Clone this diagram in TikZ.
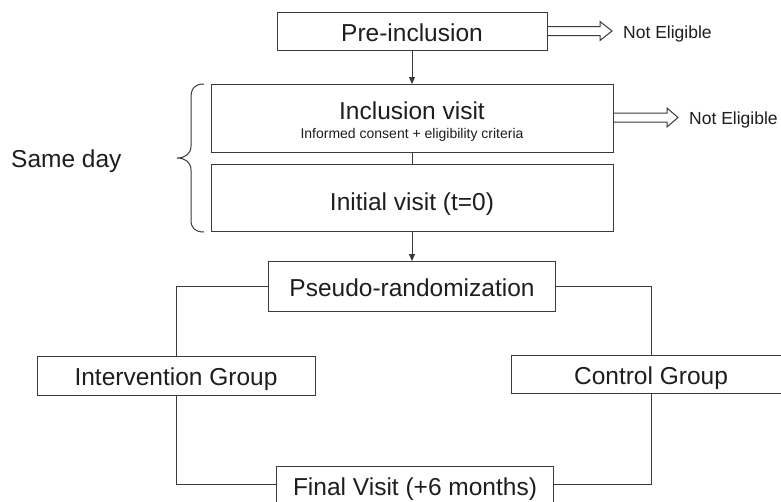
\documentclass[tikz,border=0pt]{standalone}
\usepackage{fontspec}
\setmainfont{Liberation Sans}
\usetikzlibrary{arrows.meta}
\definecolor{ln}{HTML}{3A3A3A}
\definecolor{tx}{HTML}{1E1E1E}
\begin{document}
\begin{tikzpicture}[x=1pt,y=-1pt,
  box/.style={draw=ln,line width=1pt,inner sep=0pt,outer sep=0pt,rectangle},
  big/.style={text=tx,font=\fontsize{24.5}{29}\selectfont,inner sep=0pt,anchor=base},
  mid/.style={text=tx,font=\fontsize{17.5}{21}\selectfont,inner sep=0pt,anchor=base west},
  small/.style={text=tx,font=\fontsize{14}{17}\selectfont,inner sep=0pt,anchor=base},
  conn/.style={draw=ln,line width=1pt},
  arr/.style={conn,-{Triangle[length=7pt,width=6pt]}},
  hollow/.style={draw=ln,line width=1pt,line join=miter}]
\fill[white] (0,0) rectangle (781,501);
\useasboundingbox (0,0) rectangle (781,501);

% boxes
\node[box,minimum width=270pt,minimum height=38pt] (pre) at (412,31) {};
\node[box,minimum width=402pt,minimum height=68pt] (incl) at (412,118) {};
\node[box,minimum width=402pt,minimum height=67pt] (init) at (412,197.5) {};
\node[box,minimum width=287pt,minimum height=50pt] (pseudo) at (411.5,286) {};
\node[box,minimum width=278pt,minimum height=39pt] (interv) at (176,375.5) {};
\node[box,minimum width=280pt,minimum height=38pt] (control) at (651,374) {};
\node[box,minimum width=277pt,minimum height=37pt] (final) at (414.5,484.5) {};

% texts
\node[big] (tpre) at (412,41) {Pre-inclusion};
\node[big] (tincl) at (412,119) {Inclusion visit};
\node[small] (tcons) at (412,138) {Informed consent + eligibility criteria};
\node[big] (tinit) at (412,210) {Initial visit (t=0)};
\node[big] (tpseudo) at (412,296) {Pseudo-randomization};
\node[big] (tinterv) at (176,385) {Intervention Group};
\node[big] (tcontrol) at (651,384) {Control Group};
\node[big] (tfinal) at (415,495) {Final Visit (+6 months)};
\node[mid] (ne1) at (623,38) {Not Eligible};
\node[mid] (ne2) at (689,124) {Not Eligible};
\node[big,anchor=base west] (same) at (11,167) {Same day};

% hollow arrows
\draw[hollow] ([yshift=4.5pt]pre.east) -- ++(53,0) -- ++(0,-5) -- ++(12,9.5) -- ++(-12,9.5) -- ++(0,-5) -- ++(-53,0);
\draw[hollow] ([yshift=5pt]incl.east) -- ++(54,0) -- ++(0,-5) -- ++(11,9.5) -- ++(-11,9.5) -- ++(0,-5) -- ++(-54,0);

% brace
\draw[conn] (204,84) .. controls (195,84) and (191,88) .. (191,98) -- (191,146)
  .. controls (191,154) and (185,158) .. (177,158)
  .. controls (185,158) and (191,162) .. (191,170) -- (191,220)
  .. controls (191,228) and (195,232) .. (204,232);

% connectors
\draw[arr] (pre.south) -- (incl.north);
\draw[conn] (incl.south) -- (init.north);
\draw[arr] (init.south) -- (init.south |- pseudo.north);
\draw[conn] (pseudo.west) -| (interv.north);
\draw[conn] (pseudo.east) -| (control.north);
\draw[conn] (interv.south) |- (final.west);
\draw[conn] (control.south) |- (final.east);
\end{tikzpicture}
\end{document}
